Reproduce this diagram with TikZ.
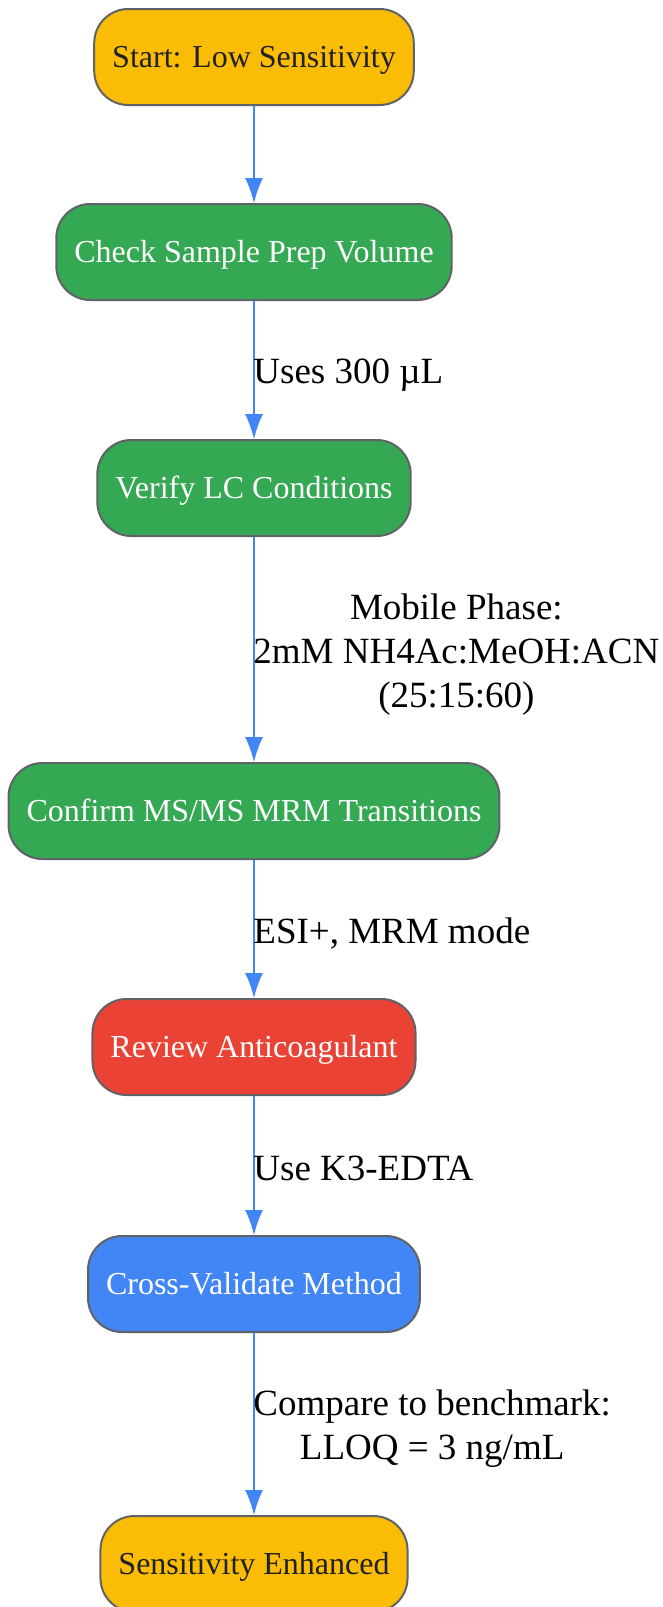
\documentclass[tikz,border=0pt]{standalone}
\usepackage{fontspec}
\setmainfont{Liberation Serif}
\usetikzlibrary{arrows.meta}
\definecolor{gyellow}{HTML}{FBBC05}
\definecolor{ggreen}{HTML}{34A853}
\definecolor{gred}{HTML}{EA4335}
\definecolor{gblue}{HTML}{4285F4}
\definecolor{gborder}{HTML}{5F6368}
\definecolor{gtext}{HTML}{202124}
\tikzset{
  stepbox/.style={draw=gborder, line width=1pt, rounded corners=17pt, minimum height=48pt,
    inner xsep=9pt, text height=10.5pt, text depth=0pt, font=\fontsize{16}{19}\selectfont},
  endbox/.style={stepbox, fill=gyellow, text=gtext},
  okbox/.style={stepbox, fill=ggreen, text=white},
  warnbox/.style={stepbox, fill=gred, text=white},
  checkbox/.style={stepbox, fill=gblue, text=white},
  lbl/.style={anchor=west, inner sep=0pt, align=center, font=\fontsize{18.5}{22}\selectfont},
  flow/.style={gblue, line width=0.75pt, -{Latex[length=12.5pt, width=9pt]}}
}
\begin{document}
\begin{tikzpicture}[x=0.5pt, y=-0.5pt]
\useasboundingbox (0,0) rectangle (663,1607);
% steps
\node[endbox]   (start)    at (254,57)   {Start: Low Sensitivity};
\node[okbox]    (prep)     at (254,252)  {Check Sample Prep Volume};
\node[okbox]    (lc)       at (254,488)  {Verify LC Conditions};
\node[okbox]    (ms)       at (254,811)  {Confirm MS/MS MRM Transitions};
\node[warnbox]  (anticoag) at (254,1047) {Review Anticoagulant};
\node[checkbox] (crossval) at (254,1284) {Cross-Validate Method};
\node[endbox]   (done)     at (254,1564) {Sensitivity Enhanced};
% connectors
\foreach \a/\b in {start/prep, prep/lc, lc/ms, ms/anticoag, anticoag/crossval, crossval/done}
  \draw[flow] (\a) -- (\b);
% labels
\node[lbl] (lvol)   at (253,375)  {Uses 300 µL};
\node[lbl] (lphase) at (253,655)  {Mobile Phase:\\2mM NH4Ac:MeOH:ACN\\(25:15:60)};
\node[lbl] (lmode)  at (253,933)  {ESI+, MRM mode};
\node[lbl] (ledta)  at (253,1168) {Use K3-EDTA};
\node[lbl] (lbench) at (253,1429) {Compare to benchmark:\\LLOQ = 3 ng/mL};
\end{tikzpicture}
\end{document}
